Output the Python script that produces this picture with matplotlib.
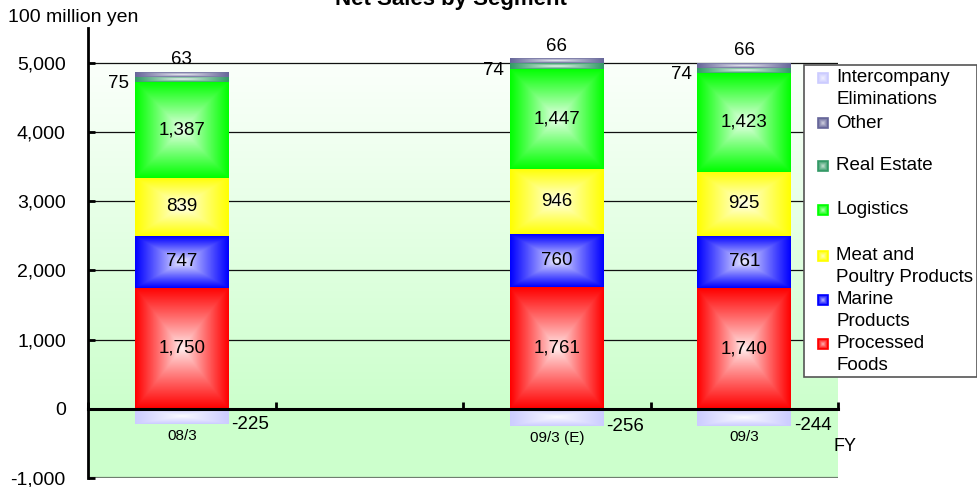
import numpy as np
import matplotlib
matplotlib.use("Agg")
import matplotlib.pyplot as plt
from matplotlib.colors import to_rgb
from matplotlib.patches import Rectangle
from matplotlib.ticker import FuncFormatter

plt.rcParams['font.family'] = ['Liberation Sans', 'DejaVu Sans']

# ---- data (100 million yen) ----
categories = ["08/3", "09/3 (E)", "09/3"]
slots = [0, 2, 3]                      # slot 1 is left empty on the axis
processed = [1750, 1761, 1740]
marine = [747, 760, 761]
meat = [839, 946, 925]
logistics = [1387, 1447, 1423]
real_estate = [75, 74, 74]
other = [63, 66, 66]
eliminations = [-225, -256, -244]
yticks = [-1000, 0, 1000, 2000, 3000, 4000, 5000]

stack_names = ["Processed Foods", "Marine Products", "Meat and Poultry Products",
               "Logistics", "Real Estate", "Other"]
stack_values = [processed, marine, meat, logistics, real_estate, other]
stack_colors = ["#ff0000", "#0000ff", "#ffff00", "#00ff00", "#339966", "#666699"]
elim_color = "#ccccff"

legend_labels = ["Intercompany\nEliminations", "Other", "Real Estate", "Logistics",
                 "Meat and\nPoultry Products", "Marine\nProducts", "Processed\nFoods"]
legend_colors = [elim_color, "#666699", "#339966", "#00ff00", "#ffff00", "#0000ff", "#ff0000"]


def fill_gradient(ax, x, y, w, h, color, zorder, n=160, core=0.06):
    """Rectangular 'from centre' gradient: white in the middle, full colour at the edges."""
    y0, y1 = sorted([y, y + h])
    u = np.linspace(-1, 1, n)
    U, V = np.meshgrid(u, u)
    t = np.maximum(np.abs(U), np.abs(V))
    c = np.array(to_rgb(color))
    img = 1 - (1 - c)[None, None, :] * (core + (1 - core) * t ** 0.9)[:, :, None]
    ax.imshow(img, extent=(x, x + w, y0, y1), aspect='auto',
              interpolation='bilinear', zorder=zorder)


fig = plt.figure(figsize=(9.77, 4.87), dpi=100)
W, H = 977, 487
ax = fig.add_axes([88 / W, 1 - 478 / H, 750 / W, 450 / H])
ax.set_xlim(-0.5, 3.5)
ax.set_ylim(-1000, 5500)

# plot-area background: white-to-green gradient above zero, flat green below
bg = np.linspace(0, 1, 256)[:, None]
top_c = np.array(to_rgb("#fbfffb"))
bot_c = np.array(to_rgb("#ccffcc"))
bg_img = top_c[None, None, :] * (1 - bg[:, :, None]) + bot_c[None, None, :] * bg[:, :, None]
ax.imshow(bg_img, extent=(-0.5, 3.5, 0, 5000), aspect='auto', zorder=0,
          interpolation='bilinear')
ax.axhspan(-1000, 0, color="#ccffcc", zorder=0, lw=0)

for v in yticks:
    if v > 0:
        ax.axhline(v, color="#111111", lw=0.9, zorder=1)
ax.axhline(-1000, color="#6f7f6f", lw=1.6, zorder=1)

# stacked segments
bottom = np.zeros(len(slots))
bar_sets = []
for vals, col in zip(stack_values, stack_colors):
    bars = ax.bar(slots, vals, bottom=bottom, width=0.5, color=col, lw=0, zorder=2)
    for r in bars:
        fill_gradient(ax, r.get_x(), r.get_y(), r.get_width(), r.get_height(), col, 2.5)
    bar_sets.append(bars)
    bottom = bottom + np.array(vals)
elim_bars = ax.bar(slots, eliminations, width=0.5, color=elim_color, lw=0, zorder=2)
for r in elim_bars:
    fill_gradient(ax, r.get_x(), r.get_y(), r.get_width(), r.get_height(), elim_color, 2.5)

fs = 13.5
# labels centred in the four large segments
for bars, vals in zip(bar_sets[:4], stack_values[:4]):
    for r, v in zip(bars, vals):
        ax.text(r.get_x() + r.get_width() / 2, r.get_y() + r.get_height() / 2,
                f"{v:,}", ha='center', va='center', fontsize=fs, zorder=5)
# real estate: left of the bar
for r, v in zip(bar_sets[4], real_estate):
    ax.annotate(f"{v:,}", (r.get_x(), r.get_y() + r.get_height() / 2),
                xytext=(-4, -3), textcoords='offset points',
                ha='right', va='center', fontsize=fs, zorder=5)
# other: above the bar
for r, v in zip(bar_sets[5], other):
    ax.annotate(f"{v:,}", (r.get_x() + r.get_width() / 2, r.get_y() + r.get_height()),
                xytext=(0, 3), textcoords='offset points',
                ha='center', va='bottom', fontsize=fs, zorder=5)
# eliminations: right of the bar, plus the fiscal-year label below
for r, v, cat in zip(elim_bars, eliminations, categories):
    ax.annotate(f"{v:,}", (r.get_x() + r.get_width(), v),
                xytext=(2, 0), textcoords='offset points',
                ha='left', va='center', fontsize=fs, zorder=5)
    ax.annotate(cat, (r.get_x() + r.get_width() / 2, v),
                xytext=(0, -3), textcoords='offset points',
                ha='center', va='top', fontsize=11, zorder=5)

# axes styling
for s in ("top", "right"):
    ax.spines[s].set_visible(False)
ax.spines['left'].set_linewidth(2)
ax.spines['left'].set_zorder(6)
ax.spines['bottom'].set_position(('data', 0))
ax.spines['bottom'].set_linewidth(2.2)
ax.spines['bottom'].set_zorder(6)
ax.set_yticks(yticks)
ax.yaxis.set_major_formatter(FuncFormatter(lambda v, p: f"{int(v):,}"))
ax.tick_params(axis='y', direction='in', length=5, width=2, pad=16, labelsize=14)
ax.set_xticks([-0.5, 0.5, 1.5, 2.5, 3.5])
ax.set_xticklabels([])
ax.tick_params(axis='x', direction='in', length=5, width=2)

ax.annotate("FY", (3.5, -550), xytext=(-3, 0), textcoords='offset points',
            ha='left', va='center', fontsize=13, annotation_clip=False)

fig.text(8 / W, 1 - 17 / H, "100 million yen", ha='left', va='center', fontsize=14)
fig.text(451 / W, 1 - 5 / H, "Net Sales by Segment", ha='center', va='baseline',
         fontsize=16, fontweight='bold')

# legend panel
lax = fig.add_axes([804 / W, 1 - 377 / H, 173 / W, 312 / H])
lax.set_xlim(0, 173)
lax.set_ylim(312, 0)
lax.axis('off')
lax.add_patch(Rectangle((0, 0), 172.5, 312, facecolor='white', edgecolor='#555555',
                        lw=1.2, zorder=0, clip_on=False))
entry_y = [13, 58, 101, 145, 191, 235, 279]
for lbl, col, yy in zip(legend_labels, legend_colors, entry_y):
    fill_gradient(lax, 13.5, yy - 5, 10, 10, col, 2, n=40, core=0.25)
    lax.add_patch(Rectangle((13.5, yy - 5), 10, 10, facecolor='none',
                            edgecolor=col, lw=1.2, zorder=3))
    for i, line in enumerate(lbl.split("\n")):
        lax.text(32, yy + 21 * i, line, ha='left', va='center', fontsize=13.5, zorder=3)
lax.set_xlim(0, 173)
lax.set_ylim(312, 0)

fig.savefig("out.png", dpi=100)
